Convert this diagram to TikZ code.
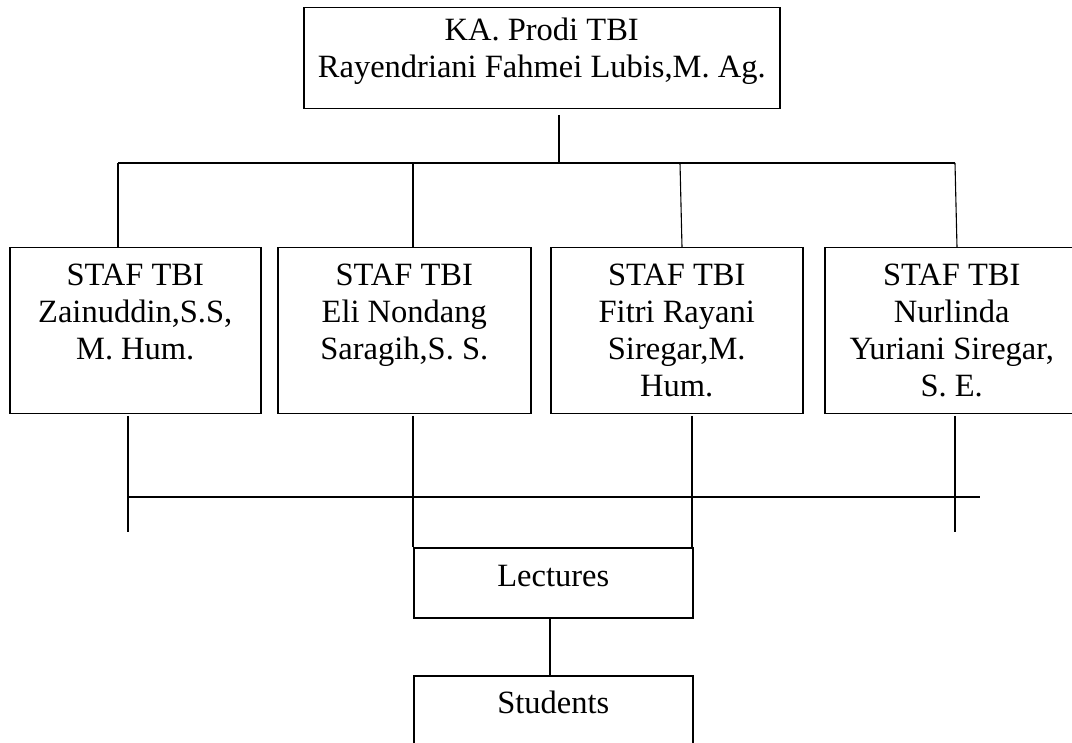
\documentclass[tikz,border=0pt]{standalone}
\usepackage{fontspec}
\setmainfont{Liberation Serif}
\newcommand\bxt[4]{\parbox[t][#2][t]{#1}{\centering\rule{0pt}{#3}#4}}
\begin{document}
\begin{tikzpicture}[x=1pt,y=-1pt,
  orgbox/.style={draw=black,line width=1.5pt,inner sep=0pt,anchor=north west,
    font=\fontsize{32.5}{37}\selectfont},
  conn/.style={draw=black,line width=1.1pt},
  bus/.style={draw=black,line width=1.4pt}]
\useasboundingbox[fill=white] (0,0) rectangle (1072,743);
\clip (0,0) rectangle (1072,743);
% boxes
\node[orgbox] (top) at (303,7) {\bxt{476pt}{101pt}{33pt}{KA. Prodi TBI\\Rayendriani Fahmei Lubis,M. Ag.}};
\node[orgbox] (s1) at (9,247) {\bxt{251pt}{166pt}{38pt}{STAF TBI\\Zainuddin,S.S,\\M. Hum.}};
\node[orgbox] (s2) at (277,247) {\bxt{253pt}{166pt}{38pt}{STAF TBI\\Eli Nondang\\Saragih,S. S.}};
\node[orgbox] (s3) at (550,247) {\bxt{252pt}{166pt}{38pt}{STAF TBI\\Fitri Rayani\\Siregar,M.\\Hum.}};
\node[orgbox] (s4) at (824,247) {\bxt{254pt}{166pt}{38pt}{STAF TBI\\Nurlinda\\Yuriani Siregar,\\S. E.}};
\node[orgbox] (lec) at (413,547) {\bxt{279pt}{70pt}{39pt}{Lectures}};
\node[orgbox] (stu) at (413,675) {\bxt{279pt}{100pt}{38pt}{Students}};
% upper bus
\coordinate (t0) at (559,115);
\coordinate (j0) at (559,163);
\coordinate (bL) at (118,163);
\coordinate (bR) at (955,163);
\coordinate (u2) at (413,163);
\coordinate (u3) at (680,163);
\draw[conn] (t0) -- (j0);
\draw[bus] (bL) -- (bR);
\draw[conn] (bL) -- (bL |- s1.north);
\draw[conn] (u2) -- (u2 |- s2.north);
\draw[conn] (u3) -- ([xshift=2pt]u3 |- s3.north);
\draw[conn] (bR) -- ([xshift=2pt]bR |- s4.north);
% lower bus
\coordinate (d1) at (128,416);
\coordinate (d2) at (413,416);
\coordinate (d3) at (692,416);
\coordinate (d4) at (955,416);
\coordinate (e1) at (128,532);
\coordinate (e4) at (955,532);
\coordinate (hL) at (128,497);
\coordinate (hR) at (980,497);
\draw[conn] (d1) -- (e1);
\draw[conn] (d2) -- (d2 |- lec.north);
\draw[conn] (d3) -- (d3 |- lec.north);
\draw[conn] (d4) -- (e4);
\draw[bus] (hL) -- (hR);
% lectures to students
\coordinate (ls) at (550,617);
\draw[conn] (ls) -- (ls |- stu.north);
\end{tikzpicture}
\end{document}
